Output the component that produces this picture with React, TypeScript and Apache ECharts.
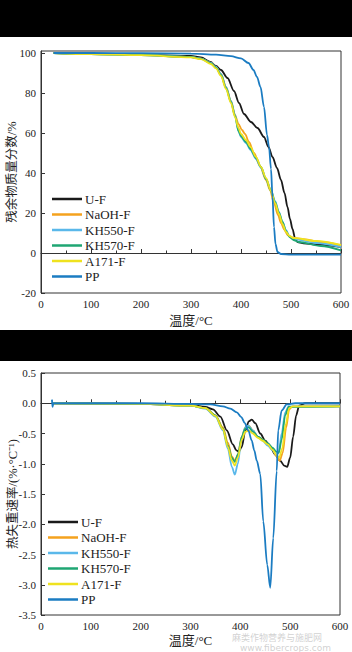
import React, { useEffect, useRef } from "react";
import * as echarts from "echarts";

const seriesNames = ["U-F", "NaOH-F", "KH550-F", "KH570-F", "A171-F", "PP"];
const seriesColors = ["#1a1a1a", "#f4a21e", "#5ab8ea", "#1fa673", "#efe21f", "#1b7cc2"];

// TG curves: [temperature °C, residual mass %]
const tgUF = [[25,100],[100,99.6],[200,99.2],[300,98.5],[320,97.8],[339,95.5],[350,93.5],[360,91.5],[373,87.5],[386,81],[396,75],[406,69.5],[420,65.5],[433,62.5],[446,58],[455,53],[463,48],[472,42.5],[480,36.5],[487,30],[493,23],[498,17],[503,12],[508,7.5],[513,5.5],[525,4.8],[550,4.3],[600,3]];
const tgNaOH = [[25,100],[100,99.5],[200,99],[300,98],[320,97.2],[340,95],[350,93],[360,89.5],[370,83],[380,76],[388,69],[395,64.5],[402,61.5],[408,59.5],[416,55.5],[426,50],[438,43.5],[450,36.5],[458,31.5],[466,25],[474,19],[480,15],[487,11.5],[493,9],[500,7.8],[520,7],[560,5.5],[600,3.8]];
const tgKH550 = [[25,100],[100,99.5],[200,99],[300,98],[320,97.2],[340,95],[350,93],[360,89.5],[370,83],[380,76],[388,69],[395,61],[400,58],[410,55],[419,51.5],[430,47],[440,42.5],[450,37],[460,31.5],[468,26],[476,20.5],[483,15.5],[490,11.5],[497,8.5],[505,7],[550,5],[600,3]];
const tgKH570 = [[25,100],[100,99.5],[200,99],[300,98],[320,97.1],[340,94.8],[350,92.7],[360,89],[370,82.5],[380,75.5],[388,68.5],[395,61],[400,58.5],[410,55.5],[419,52],[430,47.5],[440,43],[450,37],[460,31],[468,25.5],[476,20],[483,15.5],[490,11],[497,8],[505,6.5],[515,5.5],[560,3.5],[600,1.3]];
const tgA171 = [[25,100],[100,99.4],[200,98.9],[300,97.8],[320,96.9],[340,94.5],[350,92.3],[360,88.5],[370,82],[380,75],[388,68],[395,62.5],[400,59.5],[410,56.5],[419,53],[430,48],[440,43],[450,37.5],[460,31],[468,25],[476,19.5],[483,14.5],[490,10.5],[497,8.5],[505,7.5],[550,6],[600,4]];
const tgPP = [[25,100],[100,100],[200,99.9],[300,99.7],[350,99.2],[380,98.4],[400,97.3],[415,95],[425,91.5],[432,88],[439,83],[446,73],[452,59],[456,53],[460,42],[463,28],[466,13],[469,4.5],[473,0.5],[480,-0.5],[500,-0.8],[600,-0.8]];

// DTG curves: [temperature °C, rate %/°C]
const dtgUF = [[25,0],[200,-0.01],[300,-0.03],[330,-0.06],[345,-0.1],[360,-0.22],[373,-0.45],[385,-0.68],[392,-0.78],[397,-0.8],[403,-0.72],[410,-0.45],[417,-0.3],[423,-0.27],[430,-0.33],[440,-0.5],[450,-0.62],[460,-0.72],[470,-0.85],[480,-0.95],[488,-1.03],[494,-1.05],[500,-0.9],[506,-0.55],[512,-0.2],[518,-0.04],[530,0],[600,0]];
const dtgNaOH = [[25,0],[200,-0.01],[300,-0.04],[330,-0.08],[350,-0.2],[365,-0.4],[375,-0.65],[383,-0.88],[389,-0.95],[395,-0.85],[403,-0.55],[410,-0.4],[417,-0.37],[425,-0.45],[435,-0.55],[445,-0.6],[455,-0.68],[465,-0.78],[473,-0.88],[479,-0.95],[485,-0.82],[492,-0.4],[498,-0.1],[505,-0.05],[600,-0.05]];
const dtgKH550 = [[25,0],[200,-0.01],[300,-0.04],[330,-0.09],[350,-0.22],[365,-0.45],[375,-0.75],[383,-1.05],[389,-1.18],[395,-1.0],[402,-0.6],[410,-0.4],[416,-0.37],[425,-0.45],[435,-0.55],[445,-0.62],[455,-0.7],[465,-0.78],[472,-0.85],[477,-0.82],[483,-0.5],[490,-0.15],[497,-0.05],[600,-0.05]];
const dtgKH570 = [[25,0],[200,-0.01],[300,-0.04],[330,-0.08],[350,-0.2],[365,-0.42],[375,-0.7],[383,-0.9],[389,-0.97],[395,-0.85],[403,-0.55],[410,-0.42],[417,-0.4],[425,-0.47],[435,-0.55],[445,-0.6],[455,-0.66],[465,-0.74],[472,-0.8],[477,-0.82],[483,-0.6],[490,-0.2],[497,-0.06],[600,-0.05]];
const dtgA171 = [[25,0],[200,-0.01],[300,-0.04],[330,-0.08],[350,-0.21],[365,-0.43],[375,-0.72],[383,-0.95],[389,-1.03],[395,-0.9],[403,-0.6],[410,-0.47],[417,-0.45],[425,-0.5],[435,-0.57],[445,-0.62],[455,-0.68],[465,-0.77],[472,-0.85],[478,-0.9],[484,-0.75],[491,-0.35],[498,-0.08],[505,-0.05],[600,-0.05]];
const dtgPP = [[22,0.06],[23,-0.06],[25,0],[200,0],[300,-0.01],[340,-0.02],[365,-0.05],[380,-0.09],[393,-0.15],[402,-0.23],[409,-0.33],[416,-0.45],[423,-0.62],[428,-0.78],[433,-0.95],[440,-1.17],[446,-1.95],[454,-2.67],[460,-3.05],[466,-2.23],[473,-1.12],[476,-0.45],[483,-0.12],[493,-0.02],[510,0],[600,0]];

const tgData = [tgUF, tgNaOH, tgKH550, tgKH570, tgA171, tgPP];
const dtgData = [dtgUF, dtgNaOH, dtgKH550, dtgKH570, dtgA171, dtgPP];

const xMin = 0, xMax = 600, xStep = 100;
const tgMin = -20, tgMax = 101, tgStep = 20;
const dtgMin = -3.5, dtgMax = 0.5, dtgStep = 0.5;

const SERIF = "'Liberation Serif', 'Times New Roman', 'Noto Sans CJK SC', serif";
const TXT = "#222";

function xAxisCfg(gridIndex: number, nameGap: number) {
  return {
    type: "value", gridIndex, min: xMin, max: xMax, interval: xStep,
    name: "温度/°C", nameLocation: "middle", nameGap, nameMoveOverlap: false,
    nameTextStyle: { fontFamily: SERIF, fontSize: 13, color: TXT },
    axisLine: { show: true, lineStyle: { color: "#333", width: 1 } },
    axisTick: { show: true, inside: true, length: 4, lineStyle: { color: "#333" } },
    minorTick: { show: true, splitNumber: 2, length: 2.5, lineStyle: { color: "#333" } },
    axisLabel: { fontFamily: SERIF, fontSize: 11, color: TXT, margin: 5 },
    splitLine: { show: false },
  };
}

function yAxisCfg(gridIndex: number, min: number, max: number, interval: number, name: string, nameGap: number, decimals: number) {
  return {
    type: "value", gridIndex, min, max, interval,
    name, nameLocation: "middle", nameGap, nameMoveOverlap: false,
    nameTextStyle: { fontFamily: SERIF, fontSize: 12.5, color: TXT },
    axisLine: { show: true, lineStyle: { color: "#333", width: 1 } },
    axisTick: { show: true, inside: true, length: 4, lineStyle: { color: "#333" } },
    axisLabel: {
      fontFamily: SERIF, fontSize: 11, color: TXT, margin: 5,
      showMaxLabel: max % interval === 0,
      formatter: (v: number) => v.toFixed(decimals),
    },
    splitLine: { show: false },
  };
}

function legendCfg(left: number, top: number) {
  return {
    orient: "vertical", left, top, padding: 0, itemGap: 1.5,
    icon: "rect", itemWidth: 30, itemHeight: 2.5,
    textStyle: { fontFamily: SERIF, fontSize: 13, color: TXT, padding: [0, 0, 0, -2], lineHeight: 14 },
    data: seriesNames,
  };
}

export default function App() {
  const ref = useRef<HTMLDivElement>(null);
  useEffect(() => {
    document.body.style.margin = "0";
    if (!ref.current) return;
    const chart = echarts.init(ref.current, undefined, { renderer: "svg" });
    const series: any[] = [];
    tgData.forEach((d, i) => {
      series.push({
        type: "line", name: seriesNames[i], xAxisIndex: 0, yAxisIndex: 0, data: d,
        showSymbol: false, symbol: "none", smooth: 0.3, smoothMonotone: "x",
        lineStyle: { color: seriesColors[i], width: 1.8 }, itemStyle: { color: seriesColors[i] },
      });
    });
    dtgData.forEach((d, i) => {
      series.push({
        type: "line", name: seriesNames[i], xAxisIndex: 1, yAxisIndex: 1, data: d,
        showSymbol: false, symbol: "none", smooth: 0.3, smoothMonotone: "x",
        lineStyle: { color: seriesColors[i], width: 1.8 }, itemStyle: { color: seriesColors[i] },
      });
    });
    chart.setOption({
      animation: false,
      backgroundColor: "#fff",
      grid: [
        { left: 41, top: 51, width: 300, height: 242, show: true, borderColor: "#333", borderWidth: 1, backgroundColor: "transparent", containLabel: false, outerBoundsMode: "none" },
        { left: 41, top: 373, width: 299, height: 242, show: true, borderColor: "#333", borderWidth: 1, backgroundColor: "transparent", containLabel: false, outerBoundsMode: "none" },
      ],
      xAxis: [xAxisCfg(0, 21), xAxisCfg(1, 19)],
      yAxis: [
        yAxisCfg(0, tgMin, tgMax, tgStep, "残余物质量分数/%", 23, 0),
        yAxisCfg(1, dtgMin, dtgMax, dtgStep, "热失重速率/(%·°C⁻¹)", 22, 1),
      ],
      legend: [legendCfg(52, 192), legendCfg(48, 515)],
      graphic: [
        { type: "rect", shape: { x: 0, y: 0, width: 352, height: 37 }, style: { fill: "#000" }, silent: true },
        { type: "rect", shape: { x: 0, y: 330, width: 352, height: 31 }, style: { fill: "#000" }, silent: true },
        { type: "text", left: 232, top: 633, silent: true, style: { text: "麻类作物营养与施肥网", fill: "rgba(170,170,170,0.55)", font: "9px 'Noto Sans CJK SC'" } },
        { type: "text", left: 240, top: 643, silent: true, style: { text: "www.fibercrops.com", fill: "rgba(170,170,170,0.55)", font: "9px 'DejaVu Sans'" } },
      ],
      series,
    });
    return () => chart.dispose();
  }, []);
  return <div ref={ref} style={{ position: "absolute", left: 0, top: 0, width: 352, height: 652 }} />;
}
